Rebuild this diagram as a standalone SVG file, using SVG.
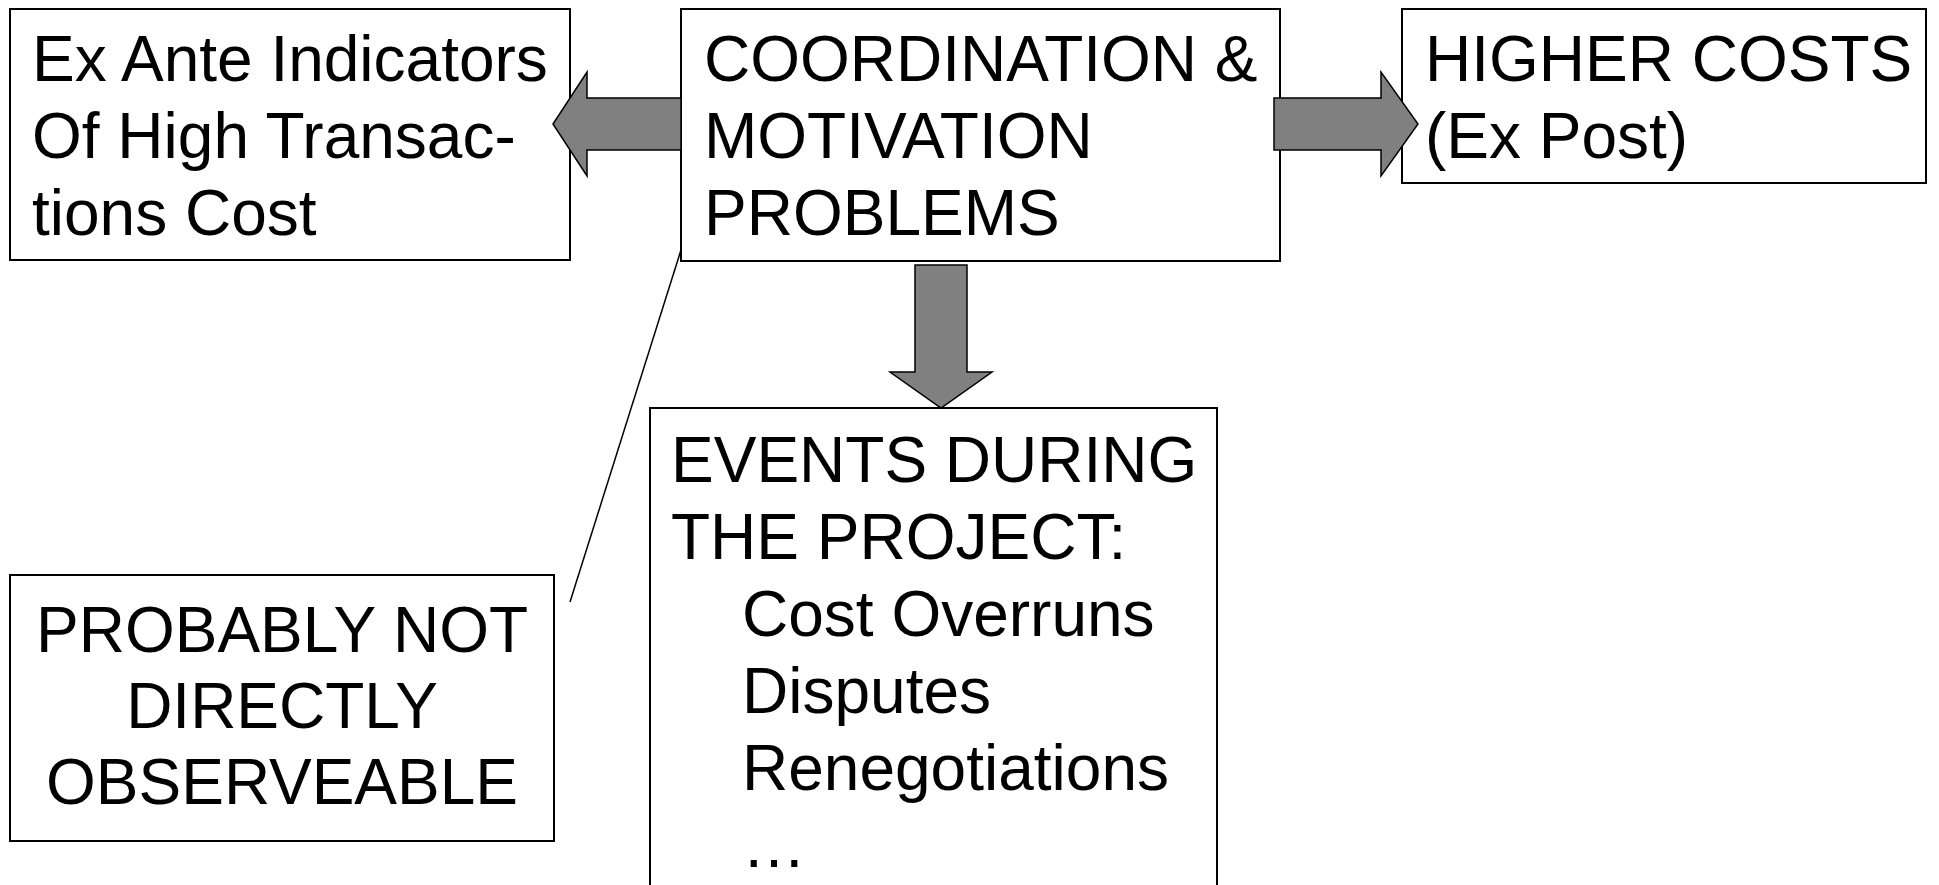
<svg xmlns="http://www.w3.org/2000/svg" width="1939" height="885" viewBox="0 0 1939 885">
<style>
.box{fill:#fff;stroke:#000;stroke-width:2}
.t{font-family:"Liberation Sans",Arial,sans-serif;font-size:64px;fill:#000}
.arr{fill:#808080;stroke:#000;stroke-width:1.5;stroke-linejoin:miter}
.ln{fill:none;stroke:#000;stroke-width:1.5}
</style>
<rect width="1939" height="885" fill="#fff"/>
<g id="exante">
<rect class="box" x="10" y="9" width="560" height="251"/>
<text class="t" x="32" y="81">Ex Ante Indicators</text>
<text class="t" x="32" y="158">Of High Transac-</text>
<text class="t" x="32" y="235">tions Cost</text>
</g>
<g id="coordination">
<rect class="box" x="681" y="9" width="599" height="252"/>
<text class="t" x="704" y="81">COORDINATION &amp;</text>
<text class="t" x="704" y="158">MOTIVATION</text>
<text class="t" x="704" y="235">PROBLEMS</text>
</g>
<g id="highercosts">
<rect class="box" x="1402" y="9" width="524" height="174"/>
<text class="t" x="1425" y="81">HIGHER COSTS</text>
<text class="t" x="1425" y="158">(Ex Post)</text>
</g>
<g id="probably">
<rect class="box" x="10" y="575" width="544" height="266"/>
<text class="t" x="282" y="652" text-anchor="middle">PROBABLY NOT</text>
<text class="t" x="282" y="728" text-anchor="middle">DIRECTLY</text>
<text class="t" x="282" y="804" text-anchor="middle">OBSERVEABLE</text>
</g>
<g id="events">
<rect class="box" x="650" y="408" width="567" height="500"/>
<text class="t" x="671" y="482">EVENTS DURING</text>
<text class="t" x="671" y="559">THE PROJECT:</text>
<text class="t" x="742" y="636">Cost Overruns</text>
<text class="t" x="742" y="713">Disputes</text>
<text class="t" x="742" y="790">Renegotiations</text>
<text class="t" x="742" y="867">…</text>
</g>
<g id="connectors">
<polygon class="arr" points="681,98 587,98 587,72 553,124 587,176 587,150 681,150"/>
<polygon class="arr" points="1274,98 1381,98 1381,72 1418,124 1381,176 1381,150 1274,150"/>
<polygon class="arr" points="915,265 967,265 967,372 992,372 941,408 890,372 915,372"/>
<line class="ln" x1="681" y1="250" x2="570" y2="602"/>
</g>
</svg>
